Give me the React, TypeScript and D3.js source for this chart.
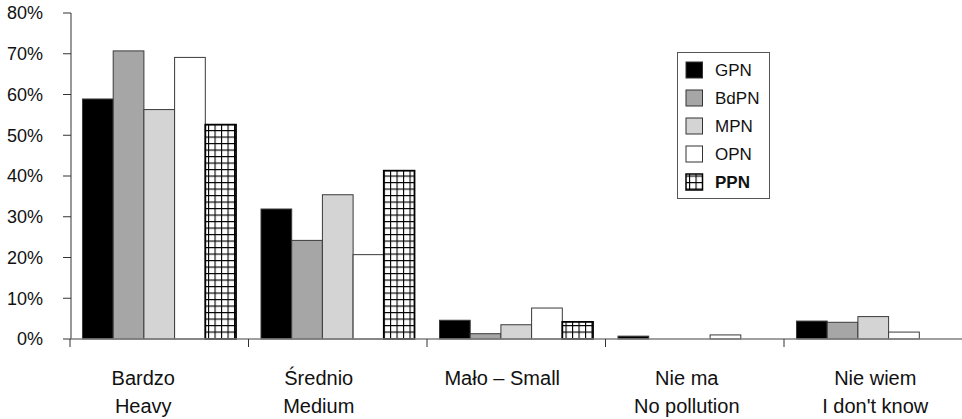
import React from "react";
import * as d3 from "d3";

const categories = ["Bardzo|Heavy", "Średnio|Medium", "Mało – Small", "Nie ma|No pollution", "Nie wiem|I don't know"];
const seriesNames = ["GPN", "BdPN", "MPN", "OPN", "PPN"];
const GPN = [58.9, 31.9, 4.6, 0.7, 4.4];
const BdPN = [70.7, 24.2, 1.3, 0, 4.1];
const MPN = [56.3, 35.4, 3.5, 0, 5.5];
const OPN = [69.1, 20.7, 7.6, 1.0, 1.7];
const PPN = [52.6, 41.3, 4.2, 0, 0];
const yTicks = [0, 10, 20, 30, 40, 50, 60, 70, 80];

const seriesValues = [GPN, BdPN, MPN, OPN, PPN];
const fills = ["#000000", "#a6a6a6", "#d4d4d4", "#ffffff", "url(#grid)"];
const labelDx = [-16, -19, -14, -8, 2];

const W = 962, H = 419;
const FONT = "'Liberation Sans', Arial, sans-serif";

export default function App() {
  const x0 = d3.scaleBand<number>().domain(d3.range(categories.length)).range([70, 962.5]).paddingInner(0).paddingOuter(0);
  const x1 = d3.scaleBand<number>().domain(d3.range(seriesNames.length)).range([0, x0.bandwidth()]).paddingInner(0).paddingOuter(0.407);
  const y = d3.scaleLinear().domain([0, 80]).range([339, 13]);

  const bars: React.ReactNode[] = [];
  categories.forEach((_, ci) => {
    seriesValues.forEach((vals, si) => {
      const v = vals[ci];
      if (!v) return;
      const bx = (x0(ci) as number) + (x1(si) as number);
      const by = y(v);
      const bh = y(0) - by;
      const hatched = si === 4;
      bars.push(
        <rect key={`${ci}-${si}`} x={bx} y={by} width={x1.bandwidth()} height={bh}
          fill={fills[si]} stroke={hatched ? "#000" : "#3a3a3a"} strokeWidth={hatched ? 1.8 : 1} />
      );
    });
  });

  return (
    <svg width={W} height={H} style={{ position: "absolute", left: 0, top: 0, background: "#fff" }} fontFamily={FONT}>
      <defs>
        <pattern id="grid" patternUnits="userSpaceOnUse" width={6.5} height={6.5}>
          <rect width={6.5} height={6.5} fill="#fff" />
          <path d="M0,0H6.5M0,0V6.5" stroke="#000" strokeWidth={2.2} fill="none" />
        </pattern>
      </defs>
      {/* y axis */}
      <line x1={71} x2={71} y1={y(80)} y2={y(0)} stroke="#333" strokeWidth={1} />
      {yTicks.map(t => (
        <g key={t}>
          <line x1={63} x2={71} y1={y(t)} y2={y(t)} stroke="#333" strokeWidth={1} />
          <text x={43} y={y(t)} dy="0.36em" textAnchor="end" fontSize={18} fill="#111">{t}%</text>
        </g>
      ))}
      {bars}
      {/* x axis */}
      <line x1={71} x2={962} y1={y(0)} y2={y(0)} stroke="#808080" strokeWidth={1.5} />
      {d3.range(categories.length + 1).map(i => {
        const tx = i < categories.length ? (x0(i) as number) : 962.5;
        return <line key={i} x1={tx} x2={tx} y1={y(0)} y2={y(0) + 8} stroke="#333" strokeWidth={1} />;
      })}
      {categories.map((c, i) => {
        const cx = (x0(i) as number) + x0.bandwidth() / 2 + labelDx[i];
        const lines = c.split("|");
        return (
          <text key={c} x={cx} textAnchor="middle" fontSize={20} fill="#111">
            {lines.map((l, li) => <tspan key={li} x={cx} y={385 + li * 28.3}>{l}</tspan>)}
          </text>
        );
      })}
      {/* legend */}
      <rect x={677.5} y={52.5} width={92} height={146} fill="#fff" stroke="#555" strokeWidth={1} />
      {seriesNames.map((s, i) => {
        const cy = 70 + i * 28;
        return (
          <g key={s}>
            <rect x={686} y={cy - 8} width={16.5} height={16} fill={fills[i]} stroke={i === 4 ? "#000" : "#333"} strokeWidth={i === 4 ? 1.5 : 1} />
            <text x={715} y={cy} dy="0.36em" fontSize={17} fontWeight={i === 4 ? "bold" : "normal"} fill="#111">{s}</text>
          </g>
        );
      })}
    </svg>
  );
}
